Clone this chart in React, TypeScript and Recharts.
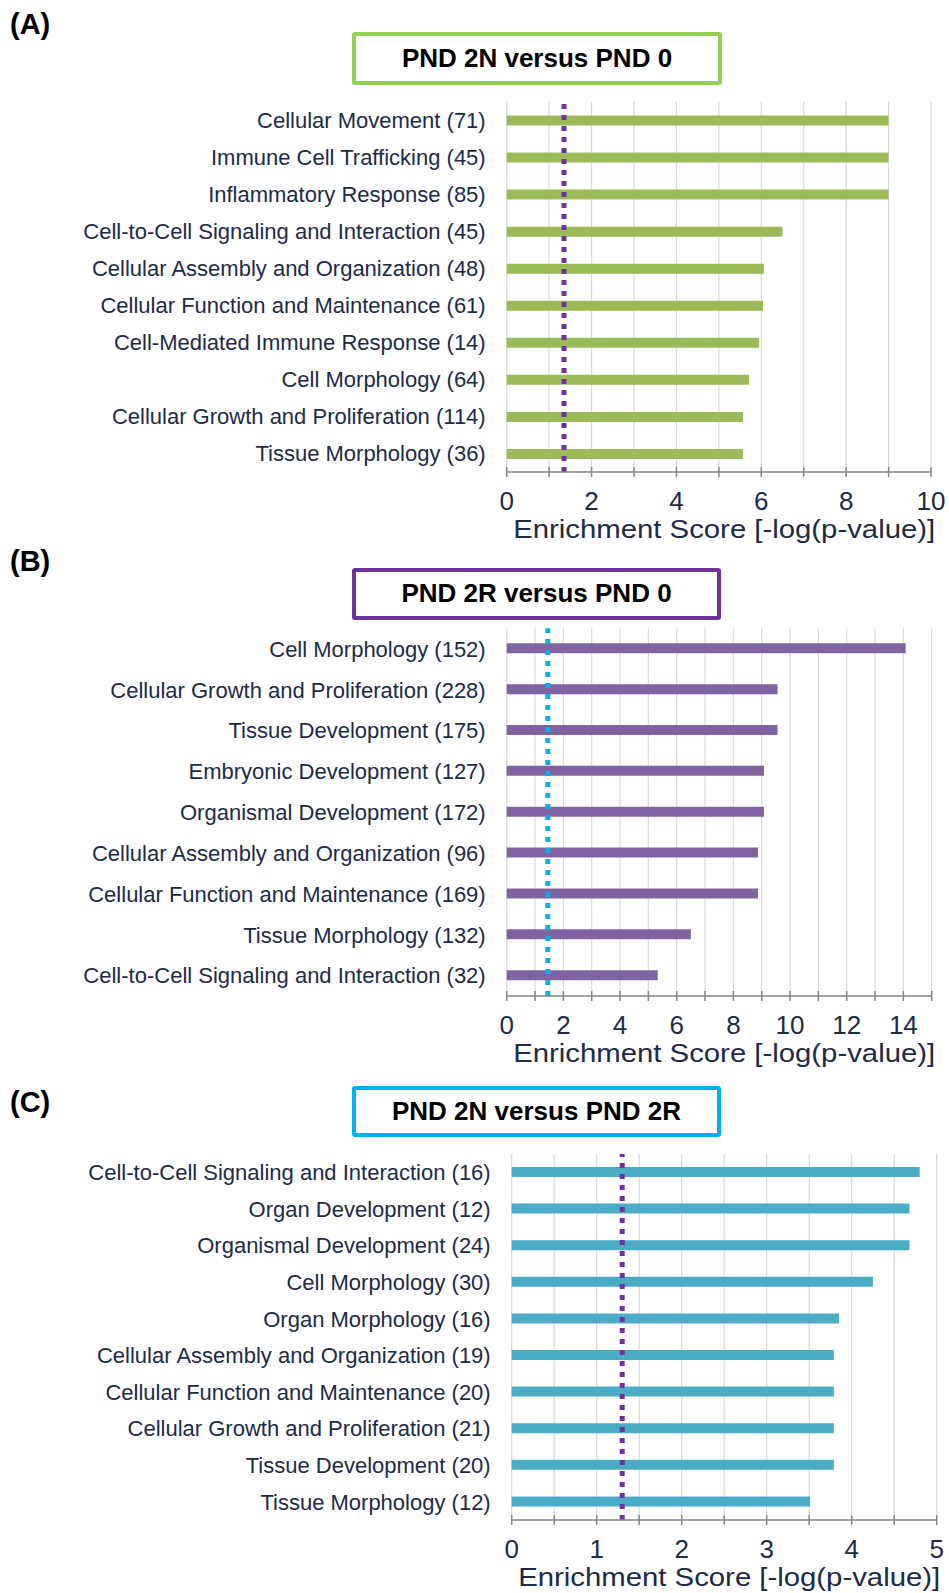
import { Bar, BarChart, CartesianGrid, Label, ReferenceLine, XAxis, YAxis } from "recharts";

const FONT = "'Liberation Sans', Arial, sans-serif";
const NAVY = "#1B2B48";
const AXIS = "#868686";
const GRID = "#D9D9D9";

// (A) PND 2N versus PND 0
const namesA = [
  "Cellular Movement (71)",
  "Immune Cell Trafficking (45)",
  "Inflammatory Response (85)",
  "Cell-to-Cell Signaling and Interaction (45)",
  "Cellular Assembly and Organization (48)",
  "Cellular Function and Maintenance (61)",
  "Cell-Mediated Immune Response (14)",
  "Cell Morphology (64)",
  "Cellular Growth and Proliferation (114)",
  "Tissue Morphology (36)",
];
const scoresA = [9.0, 9.0, 9.0, 6.5, 6.06, 6.04, 5.95, 5.71, 5.57, 5.57];
const ticksA = [0, 1, 2, 3, 4, 5, 6, 7, 8, 9, 10];
const tickLabelsA = [0, 2, 4, 6, 8, 10];
const thresholdA = 1.35;

// (B) PND 2R versus PND 0
const namesB = [
  "Cell Morphology (152)",
  "Cellular Growth and Proliferation (228)",
  "Tissue Development (175)",
  "Embryonic Development (127)",
  "Organismal Development (172)",
  "Cellular Assembly and Organization (96)",
  "Cellular Function and Maintenance (169)",
  "Tissue Morphology (132)",
  "Cell-to-Cell Signaling and Interaction (32)",
];
const scoresB = [14.08, 9.56, 9.56, 9.08, 9.08, 8.87, 8.87, 6.5, 5.33];
const ticksB = [0, 1, 2, 3, 4, 5, 6, 7, 8, 9, 10, 11, 12, 13, 14, 15];
const tickLabelsB = [0, 2, 4, 6, 8, 10, 12, 14];
const thresholdB = 1.45;

// (C) PND 2N versus PND 2R
const namesC = [
  "Cell-to-Cell Signaling and Interaction (16)",
  "Organ Development (12)",
  "Organismal Development (24)",
  "Cell Morphology (30)",
  "Organ Morphology (16)",
  "Cellular Assembly and Organization (19)",
  "Cellular Function and Maintenance (20)",
  "Cellular Growth and Proliferation (21)",
  "Tissue Development (20)",
  "Tissue Morphology (12)",
];
const scoresC = [4.8, 4.68, 4.68, 4.25, 3.85, 3.79, 3.79, 3.79, 3.79, 3.51];
const ticksC = [0, 0.5, 1, 1.5, 2, 2.5, 3, 3.5, 4, 4.5, 5];
const tickLabelsC = [0, 1, 2, 3, 4, 5];
const thresholdC = 1.3;

function CategoryTick(props: any) {
  const { x, y, payload } = props;
  return (
    <text x={x - 21} y={y} dy="0.36em" textAnchor="end" fontSize={22} fill={NAVY} fontFamily={FONT}>
      {payload.value}
    </text>
  );
}

function makeValueTick(labels: number[]) {
  return (props: any) => {
    const { x, y, payload } = props;
    const show = labels.includes(payload.value);
    return (
      <g>
        <line x1={x} x2={x} y1={y - 5} y2={y + 5} stroke={AXIS} strokeWidth={1.5} />
        {show && (
          <text x={x} y={y + 38} textAnchor="middle" fontSize={26} fill={NAVY} fontFamily={FONT}>
            {payload.value}
          </text>
        )}
      </g>
    );
  };
}

type PanelProps = {
  names: string[];
  scores: number[];
  ticks: number[];
  tickLabels: number[];
  max: number;
  threshold: number;
  barColor: string;
  lineColor: string;
  top: number;
  height: number;
  plotTop: number;
  plotLeft: number;
  right: number;
  axisHeight: number;
};

function Panel(p: PanelProps) {
  const data = p.names.map((name, i) => ({ name, score: p.scores[i] }));
  const plotBottom = p.height - p.axisHeight;
  return (
    <div style={{ position: "absolute", left: 0, top: p.top }}>
      <BarChart
        width={949}
        height={p.height}
        data={data}
        layout="vertical"
        margin={{ top: p.plotTop, right: p.right, bottom: 0, left: 0 }}
      >
        <CartesianGrid horizontal={false} stroke={GRID} strokeWidth={1.2} />
        <XAxis
          type="number"
          domain={[0, p.max]}
          ticks={p.ticks}
          interval={0}
          height={p.axisHeight}
          tickSize={0}
          tickMargin={0}
          axisLine={{ stroke: AXIS, strokeWidth: 1.5 }}
          tickLine={false}
          tick={makeValueTick(p.tickLabels)}
        >
          <Label
            content={() => (
              <text
                x={p.plotLeft + 6.5}
                y={plotBottom + 65.5}
                textLength={422}
                lengthAdjust="spacingAndGlyphs"
                fontSize={26}
                fill={NAVY}
                fontFamily={FONT}
              >
                Enrichment Score [-log(p-value)]
              </text>
            )}
          />
        </XAxis>
        <YAxis
          type="category"
          dataKey="name"
          width={p.plotLeft}
          axisLine={false}
          tickLine={false}
          tickSize={0}
          tickMargin={0}
          interval={0}
          tick={<CategoryTick />}
        />
        <Bar dataKey="score" fill={p.barColor} barSize={10} isAnimationActive={false} />
        <ReferenceLine x={p.threshold} stroke={p.lineColor} strokeWidth={5} strokeDasharray="5 6" />
      </BarChart>
    </div>
  );
}

function TitleBox({ text, color, top, left, width, height }: any) {
  return (
    <div
      style={{
        position: "absolute",
        top,
        left,
        width,
        height,
        boxSizing: "border-box",
        border: `4px solid ${color}`,
        borderRadius: 3,
        display: "flex",
        alignItems: "center",
        justifyContent: "center",
        fontFamily: FONT,
        fontWeight: 700,
        fontSize: 26,
        color: "#000",
        background: "#fff",
      }}
    >
      {text}
    </div>
  );
}

function PanelLetter({ text, top }: { text: string; top: number }) {
  return (
    <div
      style={{
        position: "absolute",
        left: 10,
        top,
        fontFamily: FONT,
        fontWeight: 700,
        fontSize: 29,
        lineHeight: "32px",
        color: "#000",
      }}
    >
      {text}
    </div>
  );
}

export default function App() {
  return (
    <div style={{ position: "absolute", left: 0, top: 0, width: 949, height: 1593, background: "#fff" }}>
      <PanelLetter text="(A)" top={8} />
      <TitleBox text="PND 2N versus PND 0" color="#92D050" top={31.5} left={352} width={370} height={53} />
      <Panel
        names={namesA}
        scores={scoresA}
        ticks={ticksA}
        tickLabels={tickLabelsA}
        max={10}
        threshold={thresholdA}
        barColor="#9BBB59"
        lineColor="#7030A0"
        top={90}
        height={462}
        plotTop={11.5}
        plotLeft={506.7}
        right={18}
        axisHeight={80}
      />

      <PanelLetter text="(B)" top={545} />
      <TitleBox text="PND 2R versus PND 0" color="#7030A0" top={568} left={352} width={369} height={51.5} />
      <Panel
        names={namesB}
        scores={scoresB}
        ticks={ticksB}
        tickLabels={tickLabelsB}
        max={15}
        threshold={thresholdB}
        barColor="#8064A2"
        lineColor="#00B0F0"
        top={615}
        height={461}
        plotTop={13.3}
        plotLeft={506.7}
        right={17.3}
        axisHeight={80}
      />

      <PanelLetter text="(C)" top={1086} />
      <TitleBox text="PND 2N versus PND 2R" color="#00B0F0" top={1086} left={352} width={369} height={51} />
      <Panel
        names={namesC}
        scores={scoresC}
        ticks={ticksC}
        tickLabels={tickLabelsC}
        max={5}
        threshold={thresholdC}
        barColor="#4BACC6"
        lineColor="#7030A0"
        top={1140}
        height={453}
        plotTop={14}
        plotLeft={511.7}
        right={12.3}
        axisHeight={73}
      />
    </div>
  );
}
